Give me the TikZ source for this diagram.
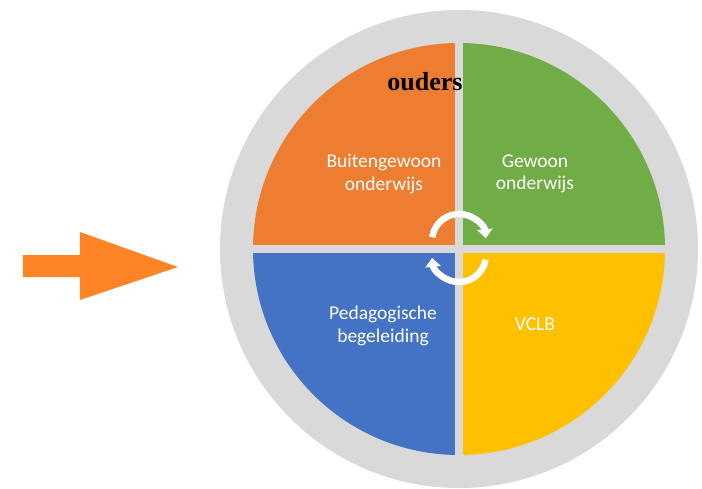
\documentclass[tikz,border=0pt]{standalone}
\usepackage{fontspec}
\setmainfont{Liberation Serif}
\newfontfamily\labelfont{Carlito}
\usetikzlibrary{arrows.meta}

\definecolor{ringgrey}{HTML}{D9D9D9}
\definecolor{qorange}{HTML}{ED7D31}
\definecolor{qgreen}{HTML}{70AD47}
\definecolor{qblue}{HTML}{4472C4}
\definecolor{qyellow}{HTML}{FFC000}
\definecolor{pointer}{HTML}{FF8426}

\begin{document}
\begin{tikzpicture}[
    x=1pt, y=1pt,
    quadlabel/.style={text=white, align=center, font=\labelfont\fontsize{19.5}{22.5}\selectfont},
    turnarrow/.style={white, line width=6.5pt, -{Triangle[length=9pt, width=15pt]}}
]
\useasboundingbox (-459,-239) rectangle (243,249);

% Outer ring
\fill[ringgrey] (0,0) circle (239pt);

% Quadrants
\begin{scope}
    \clip (0,0) circle (206pt);
    \foreach \sx/\sy/\col in {-1/1/qorange, 1/1/qgreen, -1/-1/qblue, 1/-1/qyellow}
        \fill[\col] (\sx*4,\sy*4) rectangle (\sx*210,\sy*210);
\end{scope}

% Labels
\node[font=\bfseries\fontsize{26}{29}\selectfont, anchor=base] (lblOuders) at (-34,159) {ouders};
\node[quadlabel] (lblBuiten) at (-75,75) {Buitengewoon\\onderwijs};
\node[quadlabel] (lblGewoon) at (76,75) {Gewoon\\onderwijs};
\node[quadlabel] (lblPedago) at (-76,-77) {Pedagogische\\begeleiding};
\node[quadlabel] (lblVclb) at (76,-75) {VCLB};

% Cycle arrows
\draw[turnarrow] (0,8) ++(172:27) arc[start angle=172, end angle=6, radius=27pt];
\draw[turnarrow] (0,-6) ++(-10:27) arc[start angle=-10, end angle=-174, radius=27pt];

% Pointer arrow
\fill[pointer] (-436,-6) -- (-379,-6) -- (-379,17) -- (-281,-18)
    -- (-379,-51) -- (-379,-28) -- (-436,-28) -- cycle;

\end{tikzpicture}
\end{document}
